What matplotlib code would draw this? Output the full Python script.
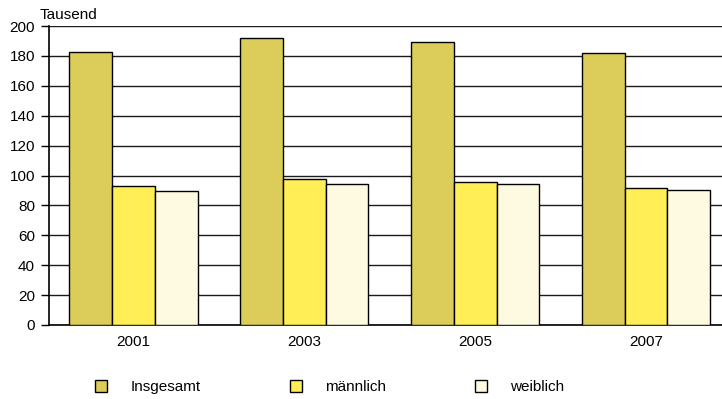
import matplotlib.pyplot as plt
import numpy as np

plt.rcParams['font.family'] = ['Liberation Sans', 'DejaVu Sans']

# Jahre und Werte (Tausend)
jahre = ["2001", "2003", "2005", "2007"]
insgesamt = [182.5, 192.0, 189.5, 181.8]
maennlich = [93.0, 97.8, 95.6, 91.6]
weiblich = [89.4, 94.3, 94.0, 90.2]

serien = ["Insgesamt", "männlich", "weiblich"]
farben = ["#dccd5a", "#ffee55", "#fefae2"]

fig = plt.figure(figsize=(7.22, 3.99), dpi=100)
ax = fig.add_axes([49 / 722, 1 - 325 / 399, 673 / 722, 299 / 399])

x = np.arange(len(jahre))
breite = 0.25
handles = []
for i, (werte, name, farbe) in enumerate(zip([insgesamt, maennlich, weiblich], serien, farben)):
    b = ax.bar(x + (i - 1) * breite, werte, breite, color=farbe,
               edgecolor="black", linewidth=1, label=name, zorder=3)
    handles.append(b)

ax.set_ylim(0, 200)
ax.set_yticks(np.arange(0, 201, 20))
ax.set_xlim(-0.495, 3.445)
ax.set_xticks(x)
ax.set_xticklabels(jahre)

ax.yaxis.grid(True, color="#1a1a1a", linewidth=1)
ax.set_axisbelow(True)
for s in ["top", "right"]:
    ax.spines[s].set_visible(False)
ax.spines["left"].set_linewidth(1.2)
ax.spines["bottom"].set_linewidth(1.2)

ax.tick_params(axis="y", length=6, width=1, pad=4, labelsize=11)
ax.tick_params(axis="x", length=0, pad=7, labelsize=11)

fig.text(40 / 722, 1 - 19 / 399, "Tausend", fontsize=11, va="baseline")

fig.legend(handles=handles, labels=serien, loc="center left",
           bbox_to_anchor=(95 / 722, 1 - 387 / 399), ncol=3, frameon=False,
           fontsize=11, handlelength=0.8, handleheight=0.8,
           handletextpad=1.5, columnspacing=5.85, borderpad=0, borderaxespad=0)

fig.savefig("out.png", dpi=100)
